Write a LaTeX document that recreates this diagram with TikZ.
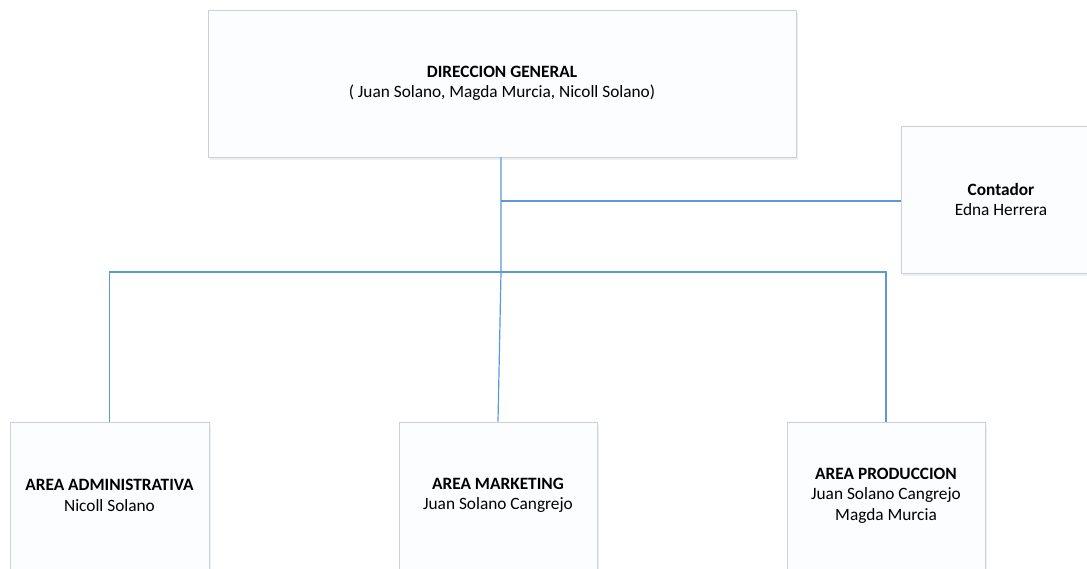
\documentclass[tikz,border=0pt]{standalone}
\usepackage{fontspec}
\setmainfont{Carlito}
\usetikzlibrary{shadows}
\definecolor{lineblue}{RGB}{91,155,213}
\definecolor{boxborder}{RGB}{205,208,212}
\definecolor{boxfill}{RGB}{252,253,254}
\tikzset{
  orgbox/.style={draw=boxborder, line width=0.8pt, fill=boxfill, align=center,
    inner sep=0pt, font=\fontsize{17.3}{20.5}\selectfont,
    drop shadow={opacity=0.12, shadow xshift=1.5pt, shadow yshift=-2.5pt, fill=lineblue!40!gray}},
  conn/.style={draw=lineblue, line width=1.2pt}
}
\begin{document}
\begin{tikzpicture}[x=1pt,y=-1pt]
\useasboundingbox (0,0) rectangle (1087,568);
\fill[white] (0,0) rectangle (1087,568);
\node[orgbox, minimum width=588pt, minimum height=147pt] (dg) at (502,83.5)
  {\textbf{DIRECCION GENERAL}\\( Juan Solano, Magda Murcia, Nicoll Solano)};
\node[orgbox, minimum width=200pt, minimum height=147pt] (cont) at (1001,199.5)
  {\textbf{Contador}\\Edna Herrera};
\node[orgbox, minimum width=199pt, minimum height=147pt] (adm) at (109.5,495.5)
  {\textbf{AREA ADMINISTRATIVA}\\Nicoll Solano};
\node[orgbox, minimum width=198pt, minimum height=147pt] (mkt) at (498,495.5)
  {\textbf{AREA MARKETING}\\Juan Solano Cangrejo};
\node[orgbox, minimum width=198pt, minimum height=147pt] (prod) at (886,495.5)
  {\textbf{AREA PRODUCCION}\\Juan Solano Cangrejo\\Magda Murcia};
\coordinate (j1) at (501,201);
\coordinate (j2) at (501,272);
\draw[conn] (dg.south -| j1) -- (j2) -- (mkt.north);
\draw[conn] (j1) -- (cont.west |- j1);
\draw[conn] (adm.north) -- (adm.north |- j2) -- (prod.north |- j2) -- (prod.north);
\end{tikzpicture}
\end{document}
